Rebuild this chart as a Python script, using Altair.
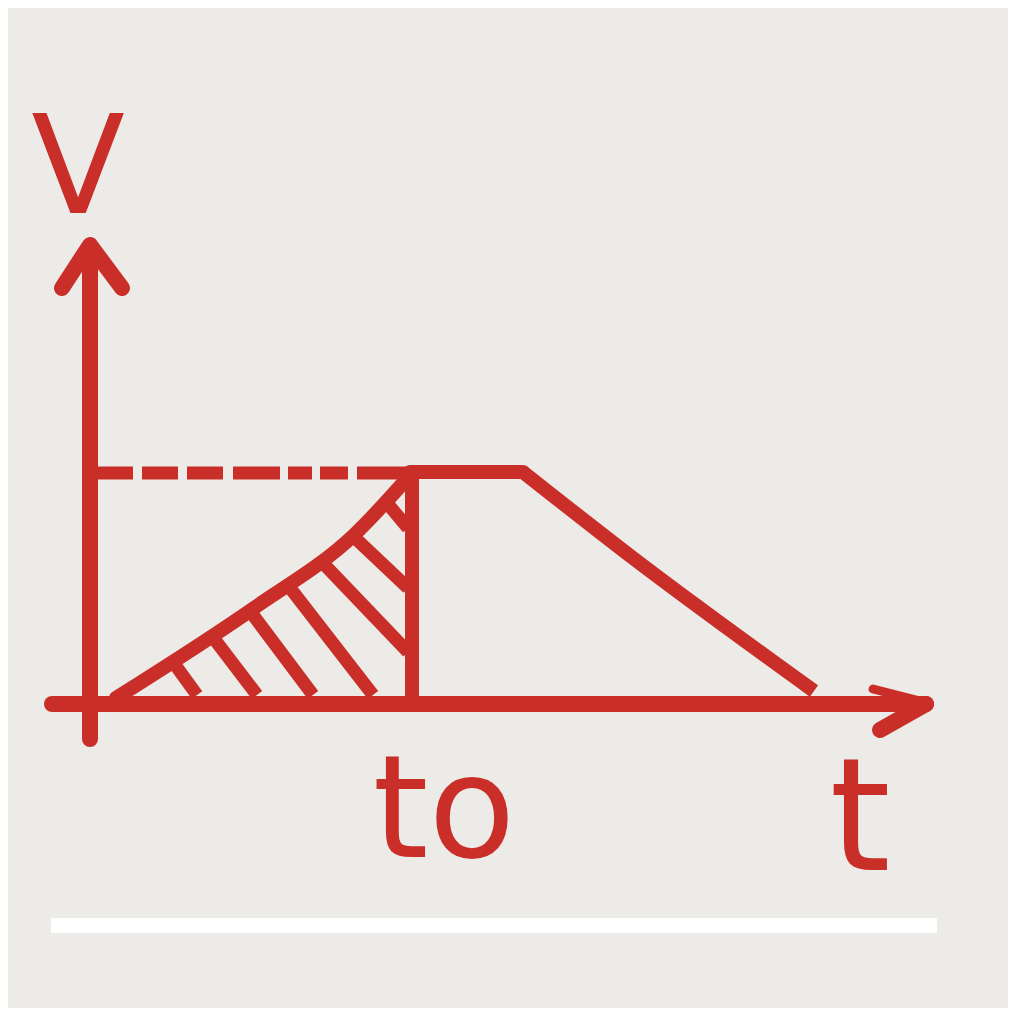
import altair as alt
import pandas as pd

RED = "#C92E29"
BG = "#ECEBE7"

# --- data (t, v units) ---
y_axis_t = [0.0, 0.0]
y_axis_v = [-3.5, 45.6]
y_arrow_t = [-2.8, 0.0, 3.2]
y_arrow_v = [41.6, 45.9, 41.6]
x_axis_t = [-3.8, 83.6]
x_axis_v = [0.0, 0.0]
x_arrow_low_t = [83.6, 79.0]
x_arrow_low_v = [0.0, -2.6]
x_arrow_up_t = [78.3, 83.4]
x_arrow_up_v = [1.5, 0.2]

curve_t = [2.6, 16.4, 26.4, 32.2]
curve_v = [0.6, 9.6, 16.9, 23.1]
vert_t = [32.2, 32.2]
vert_v = [0.0, 23.2]
plateau_t = [32.0, 43.3]
plateau_v = [23.2, 23.2]
descent_t = [43.3, 54.3, 72.4]
descent_v = [23.2, 14.6, 1.3]

dash_start = [0.0, 5.2, 9.7, 14.3, 19.8, 23.0, 26.7]
dash_end = [4.3, 8.8, 13.3, 19.0, 22.2, 25.8, 32.0]
dash_v = 23.1

hatch_t1 = [8.3, 12.2, 16.0, 19.7, 23.0, 26.3, 29.7]
hatch_v1 = [4.2, 6.8, 9.3, 12.0, 14.4, 16.8, 20.1]
hatch_t2 = [10.7, 16.7, 22.3, 28.3, 31.8, 31.8, 31.8]
hatch_v2 = [0.9, 0.9, 0.9, 0.9, 5.2, 11.6, 17.6]

bar_t = [-3.9, 84.7]
bar_v = -22.15

labels = ["V", "to", "t"]
label_t = [-1.2, 35.4, 77.0]
label_v = [49.1, -15.3, -16.6]
label_size = [137, 142, 156]

# --- scales ---
xs = alt.Scale(domain=[-8.2, 91.8], nice=False, zero=False)
ys = alt.Scale(domain=[-30.4, 69.6], nice=False, zero=False)


def poly(name, ts, vs):
    return [{"seg": name, "i": k, "t": a, "v": b} for k, (a, b) in enumerate(zip(ts, vs))]


axes_df = pd.DataFrame(
    poly("yaxis", y_axis_t, y_axis_v) + poly("yarrow", y_arrow_t, y_arrow_v)
    + poly("xaxis", x_axis_t, x_axis_v) + poly("xarrow", x_arrow_low_t, x_arrow_low_v)
)
arrow_up_df = pd.DataFrame(poly("xarrow_up", x_arrow_up_t, x_arrow_up_v))
curve_df = pd.DataFrame(poly("curve", curve_t, curve_v))
straight_df = pd.DataFrame(poly("vert", vert_t, vert_v) + poly("plateau", plateau_t, plateau_v))
descent_df = pd.DataFrame(poly("descent", descent_t, descent_v))

dash_df = pd.DataFrame({"t": dash_start, "t2": dash_end, "v": [dash_v] * len(dash_start)})
hatch_df = pd.DataFrame({"t": hatch_t1, "v": hatch_v1, "t2": hatch_t2, "v2": hatch_v2})
bar_df = pd.DataFrame({"t": [bar_t[0]], "t2": [bar_t[1]], "v": [bar_v]})
text_df = pd.DataFrame({"label": labels, "t": label_t, "v": label_v, "size": label_size})

X = alt.X("t:Q", scale=xs, axis=None)
Y = alt.Y("v:Q", scale=ys, axis=None)


def lines(df, width, cap="round", interp="linear", join="round"):
    return alt.Chart(df).mark_line(
        color=RED, strokeWidth=width, strokeCap=cap, strokeJoin=join, interpolate=interp
    ).encode(x=X, y=Y, detail="seg:N", order="i:Q")


axes = lines(axes_df, 16)
arrow_up = lines(arrow_up_df, 9)
curve = lines(curve_df, 14, interp="monotone")
straight = lines(straight_df, 14)
descent = lines(descent_df, 14, cap="butt", interp="monotone")

dashes = alt.Chart(dash_df).mark_rule(
    color=RED, strokeWidth=13, strokeCap="butt"
).encode(x=X, x2="t2:Q", y=Y)

hatch = alt.Chart(hatch_df).mark_rule(
    color=RED, strokeWidth=13, strokeCap="butt"
).encode(x=X, y=Y, x2="t2:Q", y2="v2:Q")

bar = alt.Chart(bar_df).mark_rule(
    color="#FFFFFF", strokeWidth=15, strokeCap="butt"
).encode(x=X, x2="t2:Q", y=Y)

text = alt.Chart(text_df).mark_text(
    color=RED, font="DejaVu Sans", align="center", baseline="alphabetic"
).encode(x=X, y=Y, text="label:N", size=alt.Size("size:Q", scale=None, legend=None))

chart = alt.layer(hatch, dashes, curve, straight, descent, axes, arrow_up, bar, text).properties(
    width=1000, height=1000,
    autosize=alt.AutoSizeParams(type="none"),
    padding=0,
    background=BG,
).configure_view(stroke=None)

chart.save("out.html", embed_options={"renderer": "svg", "actions": False})
